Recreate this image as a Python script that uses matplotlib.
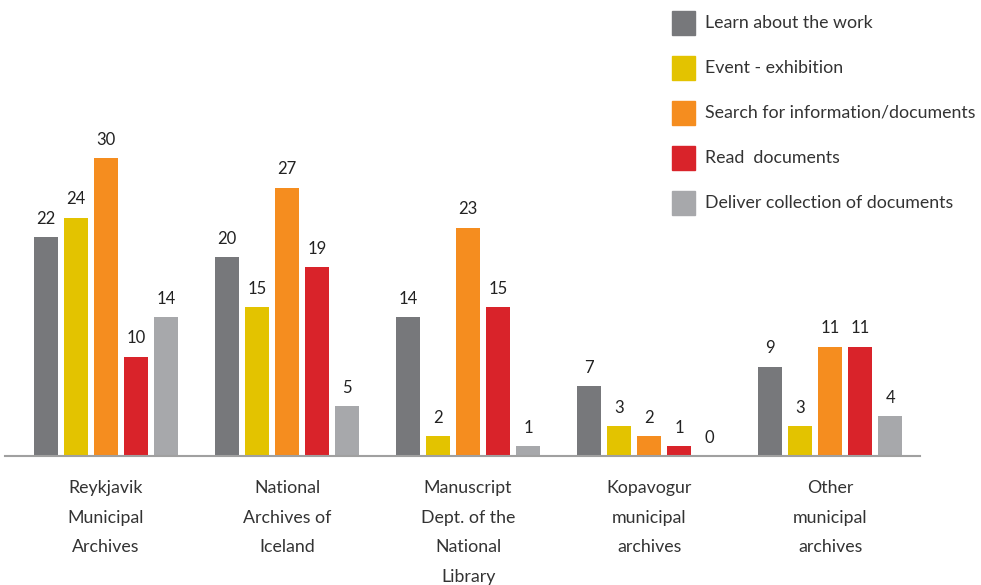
import matplotlib
matplotlib.use("Agg")
import matplotlib.pyplot as plt
import numpy as np
from matplotlib.patches import Rectangle

plt.rcParams['font.family'] = ['Lato', 'DejaVu Sans']

categories = ["Reykjavik\nMunicipal\nArchives",
              "National\nArchives of\nIceland",
              "Manuscript\nDept. of the\nNational\nLibrary",
              "Kopavogur\nmunicipal\narchives",
              "Other\nmunicipal\narchives"]
series_names = ["Learn about the work",
                "Event - exhibition",
                "Search for information/documents",
                "Read  documents",
                "Deliver collection of documents"]
learn = [22, 20, 14, 7, 9]
event = [24, 15, 2, 3, 3]
search = [30, 27, 23, 2, 11]
read = [10, 19, 15, 1, 11]
deliver = [14, 5, 1, 0, 4]
colors = ["#77787b", "#e3c300", "#f58d1f", "#d9232a", "#a7a8ab"]

series = [learn, event, search, read, deliver]

fig = plt.figure(figsize=(9.81, 5.85), dpi=100)
ax = fig.add_axes([0.005, 0.2205, 0.933, 0.7795])

x = np.arange(len(categories))
step = 30 / 181.0
width = 24 / 181.0
for j, vals in enumerate(series):
    xs = x + (j - 2) * step
    ax.bar(xs, vals, width, color=colors[j])
    for xi, v in zip(xs, vals):
        ax.annotate(str(v), (xi, v), xytext=(0, 7.5), textcoords='offset points',
                    ha='center', va='bottom', fontsize=12, color='#222222')

ax.set_xlim(-0.558, 4.497)
ax.set_ylim(0, 45.9)
for s in ['top', 'right', 'left']:
    ax.spines[s].set_visible(False)
ax.spines['bottom'].set_color('#a0a0a0')
ax.spines['bottom'].set_linewidth(1.5)
ax.set_yticks([])
ax.set_xticks([])

for xi, lab in zip(x, categories):
    ax.text(xi, -2.4, lab, ha='center', va='top', fontsize=12.8,
            color='#333333', linespacing=2.05)

# legend drawn by hand
for j, name in enumerate(series_names):
    yc = 585 - (23 + 45 * j)
    fig.patches.append(Rectangle((672 / 981, (yc - 12) / 585), 23 / 981, 24 / 585,
                                 transform=fig.transFigure, color=colors[j]))
    fig.text(705 / 981, yc / 585, name, ha='left', va='center',
             fontsize=12.8, color='#333333')

fig.savefig("out.png", dpi=100)
